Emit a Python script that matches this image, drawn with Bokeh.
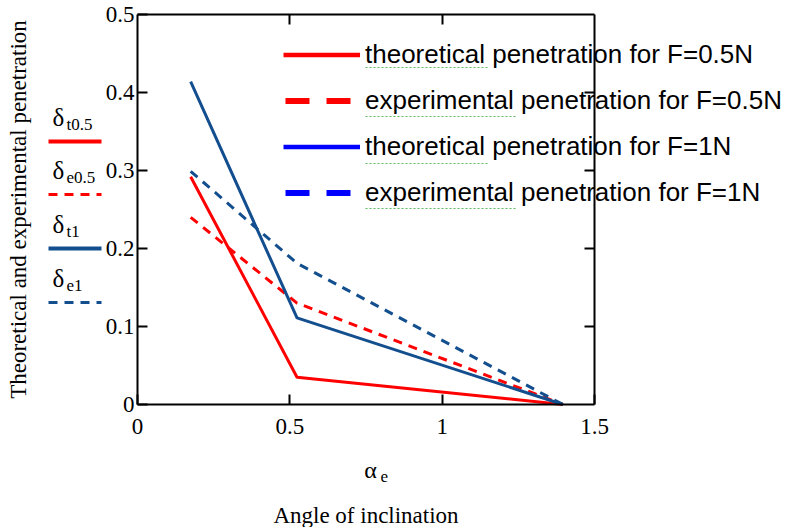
import math
from bokeh.plotting import figure
from bokeh.models import (Range1d, FixedTicker, LinearAxis, Legend, LegendItem,
                          Label, Arrow, ColumnDataSource)
from bokeh.embed import file_html
from bokeh.resources import INLINE

# ---- data ----
alpha_e = [0.1745, 0.5236, 1.3963]           # angle of inclination (rad)
delta_t05 = [0.292, 0.035, 0.0]              # theoretical, F=0.5N
delta_e05 = [0.240, 0.130, 0.0]              # experimental, F=0.5N
delta_t1 = [0.414, 0.111, 0.0]               # theoretical, F=1N
delta_e1 = [0.299, 0.181, 0.0]               # experimental, F=1N

x_ticks = [0, 0.5, 1, 1.5]
y_ticks = [0, 0.1, 0.2, 0.3, 0.4, 0.5]
x_tick_labels = {0: "0", 0.5: "0.5", 1: "1", 1.5: "1.5"}
y_tick_labels = {0: "0", 0.1: "0.1", 0.2: "0.2", 0.3: "0.3", 0.4: "0.4", 0.5: "0.5"}
legend_labels = ["theoretical penetration for F=0.5N",
                 "experimental penetration for F=0.5N",
                 "theoretical penetration for F=1N",
                 "experimental penetration for F=1N"]
left_names = [("\u03b4", "t0.5"), ("\u03b4", "e0.5"), ("\u03b4", "t1"), ("\u03b4", "e1")]

RED = "#ff0000"
NAVY = "#134f8e"
BLUE = "#0000ff"
SERIF = "Liberation Serif"
SANS = "Liberation Sans"

# ---- layout (canvas pixels) ----
W, H = 805, 527
BL, BR, BT, BB = 137, 594, 14, 404      # plot box edges
X0, X1, Y0, Y1 = 0.0, 1.5, 0.0, 0.5       # box data extents
kx = (BR - BL) / (X1 - X0)
ky = (BB - BT) / (Y1 - Y0)
xr = Range1d(X0 - BL / kx, X1 + (W - BR) / kx)
yr = Range1d(Y0 - (H - BB) / ky, Y1 + BT / ky)

p = figure(width=W, height=H, output_backend="svg", toolbar_location=None,
           x_range=xr, y_range=yr, min_border=0)
p.grid.visible = False
p.outline_line_color = None
p.background_fill_color = "white"
p.border_fill_color = "white"

src = ColumnDataSource(dict(a=alpha_e, t05=delta_t05, e05=delta_e05, t1=delta_t1, e1=delta_e1))
p.line("a", "t05", source=src, line_color=RED, line_width=3)
p.line("a", "e05", source=src, line_color=RED, line_width=3, line_dash="9 7")
p.line("a", "t1", source=src, line_color=NAVY, line_width=3)
p.line("a", "e1", source=src, line_color=NAVY, line_width=3, line_dash="9 7")

# legend-only renderers (legend drawn with its own styling)
nan_src = ColumnDataSource(dict(a=[math.nan], b=[math.nan]))
r1 = p.line("a", "b", source=nan_src, line_color=RED, line_width=4.5)
r2 = p.line("a", "b", source=nan_src, line_color=RED, line_width=6, line_dash="24 17", line_dash_offset=-2)
r3 = p.line("a", "b", source=nan_src, line_color=BLUE, line_width=4.5)
r4 = p.line("a", "b", source=nan_src, line_color=BLUE, line_width=6, line_dash="24 17", line_dash_offset=-2)
GH, SP = 31, 15
leg_top = 39
leg_h = 4 * GH + 3 * SP
leg = Legend(items=[LegendItem(label=l, renderers=[r]) for l, r in zip(legend_labels, [r1, r2, r3, r4])],
             location=(283, H - (leg_top + leg_h)), padding=0, margin=0, spacing=SP,
             glyph_width=77, glyph_height=GH, label_height=GH, label_standoff=5,
             label_text_font=SANS, label_text_font_size="26px", label_text_color="black",
             border_line_alpha=0, background_fill_alpha=0)
p.add_layout(leg, "center")

# axes at the box edges
def style_axis(ax, ticks, loc):
    ax.ticker = FixedTicker(ticks=ticks)
    ax.fixed_location = loc
    ax.minor_tick_line_color = None
    ax.major_tick_in = 10
    ax.major_tick_out = 0
    ax.axis_line_width = 2
    ax.major_tick_line_width = 2
    ax.major_label_text_font = SERIF
    ax.major_label_text_font_size = "23px"
    ax.major_label_text_color = "black"

xa, ya = p.xaxis[0], p.yaxis[0]
style_axis(xa, x_ticks, Y0)
style_axis(ya, y_ticks, X0)
xa.bounds = (X0, X1)
ya.bounds = (Y0, Y1)
xa.major_label_standoff = 14
ya.major_label_standoff = 3
xa.major_label_overrides = x_tick_labels
ya.major_label_overrides = y_tick_labels

ya.axis_label = "Theoretical and experimental penetration"
ya.axis_label_text_font = SERIF
ya.axis_label_text_font_size = "23px"
ya.axis_label_text_font_style = "normal"
ya.axis_label_text_color = "black"
ya.axis_label_standoff = 72

xa.axis_label = "Angle of inclination"
xa.axis_label_text_font = SERIF
xa.axis_label_text_font_size = "23px"
xa.axis_label_text_font_style = "normal"
xa.axis_label_text_color = "black"
xa.axis_label_standoff = 66

top = LinearAxis()
style_axis(top, [0.5, 1], Y1)
top.bounds = (X0, X1)
top.major_label_overrides = {0.5: "", 1: ""}
p.add_layout(top, "above")
right = LinearAxis()
style_axis(right, [0.1, 0.2, 0.3, 0.4], X1)
right.bounds = (Y0, Y1)
right.major_label_overrides = {0.1: "", 0.2: "", 0.3: "", 0.4: ""}
p.add_layout(right, "right")

def sy(py):
    return H - py

def seg(x0, x1, y, color, width, dash=None):
    kw = dict(line_dash=dash) if dash else {}
    p.add_layout(Arrow(end=None, start=None, x_start=x0, y_start=sy(y), x_end=x1, y_end=sy(y),
                       start_units="screen", end_units="screen", line_color=color,
                       line_width=width, **kw))

def text(x, y, t, size, align="left"):
    p.add_layout(Label(x=x, y=sy(y), x_units="screen", y_units="screen", text=t,
                       text_font=SERIF, text_font_size=size, text_align=align,
                       text_baseline="middle", text_color="black"))

# alpha_e label under x axis
text(370, 469, "\u03b1", "24px", "center")
text(380, 476, "e", "17px")

# left-side legend
line_rows = [141, 194, 248, 302]
styles = [(RED, None), (RED, "9 7"), (NAVY, None), (NAVY, "9 7")]
for (sym, sub), ly, (col, dash) in zip(left_names, line_rows, styles):
    text(52, ly - 24, sym, "25px")
    text(66, ly - 17, sub, "17px")
    seg(48, 101, ly, col, 3 if dash else 4, dash)

# spell-check underlines seen under the legend words
for y, x1 in [(67, 488), (116, 516), (163, 488), (208, 516)]:
    seg(365, x1, y, "#5cb85c", 1, "2 2")

open("out.html", "w").write(file_html(p, INLINE))
